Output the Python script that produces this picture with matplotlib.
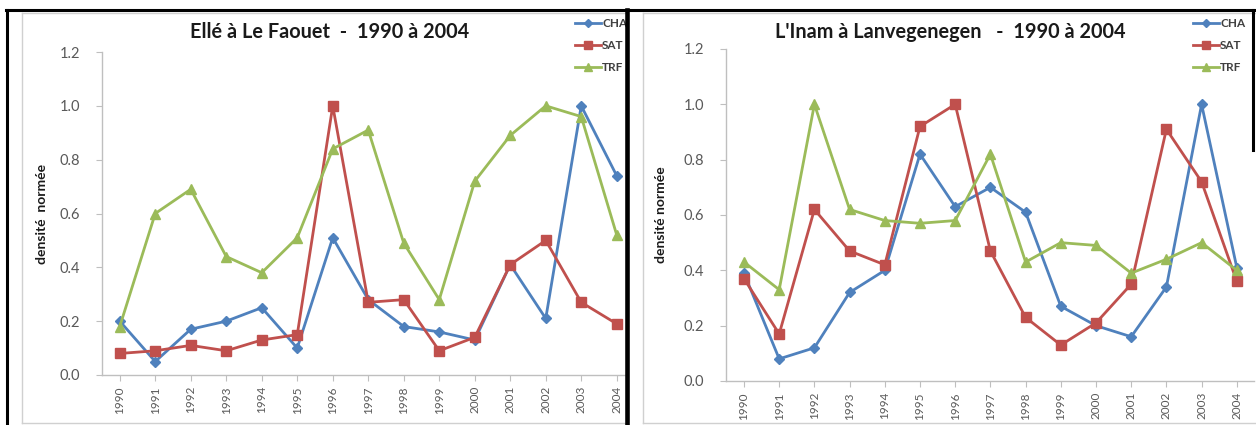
import matplotlib
matplotlib.use("Agg")
from matplotlib import pyplot as plt
from matplotlib.lines import Line2D
from matplotlib.patches import Rectangle

years = [str(y) for y in range(1990, 2005)]
series_names = ["CHA", "SAT", "TRF"]

# Ellé à Le Faouet
elle_cha = [0.20, 0.05, 0.17, 0.20, 0.25, 0.10, 0.51, 0.28, 0.18, 0.16, 0.13, 0.41, 0.21, 1.00, 0.74]
elle_sat = [0.08, 0.09, 0.11, 0.09, 0.13, 0.15, 1.00, 0.27, 0.28, 0.09, 0.14, 0.41, 0.50, 0.27, 0.19]
elle_trf = [0.18, 0.60, 0.69, 0.44, 0.38, 0.51, 0.84, 0.91, 0.49, 0.28, 0.72, 0.89, 1.00, 0.96, 0.52]

# L'Inam à Lanvegenegen
inam_cha = [0.39, 0.08, 0.12, 0.32, 0.40, 0.82, 0.63, 0.70, 0.61, 0.27, 0.20, 0.16, 0.34, 1.00, 0.41]
inam_sat = [0.37, 0.17, 0.62, 0.47, 0.42, 0.92, 1.00, 0.47, 0.23, 0.13, 0.21, 0.35, 0.91, 0.72, 0.36]
inam_trf = [0.43, 0.33, 1.00, 0.62, 0.58, 0.57, 0.58, 0.82, 0.43, 0.50, 0.49, 0.39, 0.44, 0.50, 0.40]

yticks = [0.0, 0.2, 0.4, 0.6, 0.8, 1.0, 1.2]

colors = ["#4F81BD", "#C0504D", "#9BBB59"]
markers = ["D", "s", "^"]
msizes = [5, 6.5, 6.5]

W, H = 1256, 425
plt.rcParams['font.family'] = ['Lato', 'DejaVu Sans']
fig = plt.figure(figsize=(W / 100, H / 100), dpi=100)


def fx(px):
    return px / W


def fy(py):
    return 1 - py / H


def panel(ax_box, data, title, title_x, ylabel, ylabel_x, leg_x, zorder):
    left, top, right, bottom = ax_box
    ax = fig.add_axes([fx(left), fy(bottom), fx(right - left), (bottom - top) / H], zorder=zorder)
    ax.patch.set_alpha(0)
    x = range(len(years))
    for vals, c, m, ms, name in zip(data, colors, markers, msizes, series_names):
        ax.plot(x, vals, color=c, marker=m, markersize=ms, linewidth=2, label=name)
    ax.set_xlim(-0.5, len(years) - 0.5)
    ax.set_ylim(0, 1.2)
    ax.set_yticks(yticks)
    ax.set_yticklabels(["%.1f" % v for v in yticks], color="#595959", fontsize=10.5)
    ax.set_xticks(list(x))
    ax.set_xticklabels(years, rotation=90, color="#595959", fontsize=8.5)
    for s in ["top", "right"]:
        ax.spines[s].set_visible(False)
    for s in ["left", "bottom"]:
        ax.spines[s].set_color("#BFBFBF")
        ax.spines[s].set_linewidth(1)
    ax.tick_params(axis="y", length=4, color="#BFBFBF", pad=12)
    ax.tick_params(axis="x", length=4, color="#BFBFBF", pad=4)
    fig.text(fx(title_x), fy(32), title, ha="center", va="center",
             fontsize=14.3, fontweight="bold", color="#1A1A1A", zorder=zorder + 1)
    fig.text(fx(ylabel_x), fy((top + bottom) / 2), ylabel, rotation=90, ha="center",
             va="center", fontsize=10, fontweight="bold", color="#1A1A1A", zorder=zorder + 1)
    handles = [Line2D([], [], color=c, marker=m, markersize=ms * 0.8, linewidth=2)
               for c, m, ms in zip(colors, markers, msizes)]
    leg = ax.legend(handles, series_names, loc="upper left",
                    bbox_to_anchor=(fx(leg_x), fy(18)), bbox_transform=fig.transFigure,
                    frameon=False, borderpad=0, borderaxespad=0, handlelength=2.2,
                    handletextpad=0.1, labelspacing=0.95,
                    prop={"size": 8.5, "weight": "bold", "family": ["Lato", "DejaVu Sans"]})
    for t in leg.get_texts():
        t.set_color("#404040")
    return ax


panel((102, 52, 634.5, 375), [elle_cha, elle_sat, elle_trf],
      u"Ellé à Le Faouet  -  1990 à 2004", 330, u"densité  normée", 42, 575, 1)

# right panel background hides the overflow of the left chart
fig.patches.append(Rectangle((fx(627), 0), 1 - fx(627), fy(10), transform=fig.transFigure,
                             facecolor="white", edgecolor="none", zorder=2))

panel((726.4, 49, 1254.4, 381), [inam_cha, inam_sat, inam_trf],
      u"L'Inam à Lanvegenegen   -  1990 à 2004", 950, u"densité normée", 661, 1193, 3)

# chart area frames (light gray) and panel borders (black)
gray = "#D0D0D0"
for x0 in (22, 643):
    fig.add_artist(Line2D([fx(x0), fx(x0)], [fy(423), fy(13)], color=gray, lw=1, zorder=5))
fig.add_artist(Line2D([fx(22), fx(625)], [fy(423), fy(423)], color=gray, lw=1, zorder=5))
fig.add_artist(Line2D([fx(643), 1], [fy(423), fy(423)], color=gray, lw=1, zorder=5))
fig.add_artist(Line2D([fx(22), fx(625)], [fy(13), fy(13)], color=gray, lw=1, zorder=5))
fig.add_artist(Line2D([fx(643), 1], [fy(13), fy(13)], color=gray, lw=1, zorder=5))

black_lw = 2.2
fig.add_artist(Line2D([fx(6), 1], [fy(10), fy(10)], color="black", lw=black_lw, zorder=6))
fig.add_artist(Line2D([fx(7), fx(7)], [0, fy(10)], color="black", lw=black_lw, zorder=6))
fig.add_artist(Line2D([fx(627), fx(627)], [0, fy(10)], color="black", lw=black_lw * 1.5, zorder=6))
fig.add_artist(Line2D([fx(1253), fx(1253)], [fy(150), fy(10)], color="black", lw=black_lw, zorder=6))

fig.savefig("out.png", dpi=100)
